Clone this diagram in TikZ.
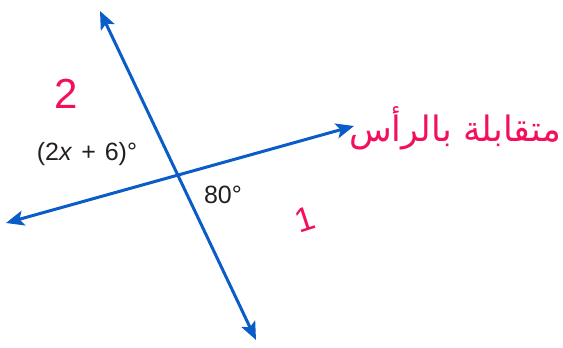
\documentclass[tikz,border=0pt]{standalone}
\usepackage{fontspec}
\setmainfont{Liberation Sans}
\newfontfamily\arabicfont[Script=Arabic]{DejaVu Sans}
\TeXXeTstate=1
\usetikzlibrary{arrows.meta}
\definecolor{lineblue}{HTML}{0A5CC8}
\definecolor{inkpink}{HTML}{F2105E}
\definecolor{labelgray}{HTML}{231F20}
\tikzset{
  dline/.style={lineblue, line width=3pt, {Stealth[length=18pt,width=15pt,inset=4pt]}-{Stealth[length=18pt,width=15pt,inset=4pt]}},
  anglabel/.style={text=labelgray, font=\fontsize{25}{28}\selectfont, inner sep=0pt},
  ink/.style={text=inkpink, inner sep=0pt},
}
\begin{document}
\begin{tikzpicture}[x=1pt,y=-1pt]
\useasboundingbox (0,0) rectangle (563,348);
\coordinate (Atop) at (100,11);
\coordinate (Abot) at (256,340);
\coordinate (Bleft) at (6,223);
\coordinate (Bright) at (354,126);
\draw[dline] (Abot) -- (Atop);
\draw[dline] (Bright) -- (Bleft);
\node[anglabel] (lab1) at (87,154) {(2\textit{x}\hspace{2pt} + \hspace{2pt}6)°};
\node[anglabel] (lab2) at (223,195) {80°};
\node[ink, font=\fontsize{42}{42}\selectfont] (two) at (66,94) {2};
\node[ink, font=\fontsize{34}{34}\selectfont, rotate=18] (one) at (305,219) {1};
\node[ink, font=\arabicfont\fontsize{35}{40}\selectfont] (arab) at (455,128) {\beginR متقابلة بالرأس\endR};
\end{tikzpicture}
\end{document}
